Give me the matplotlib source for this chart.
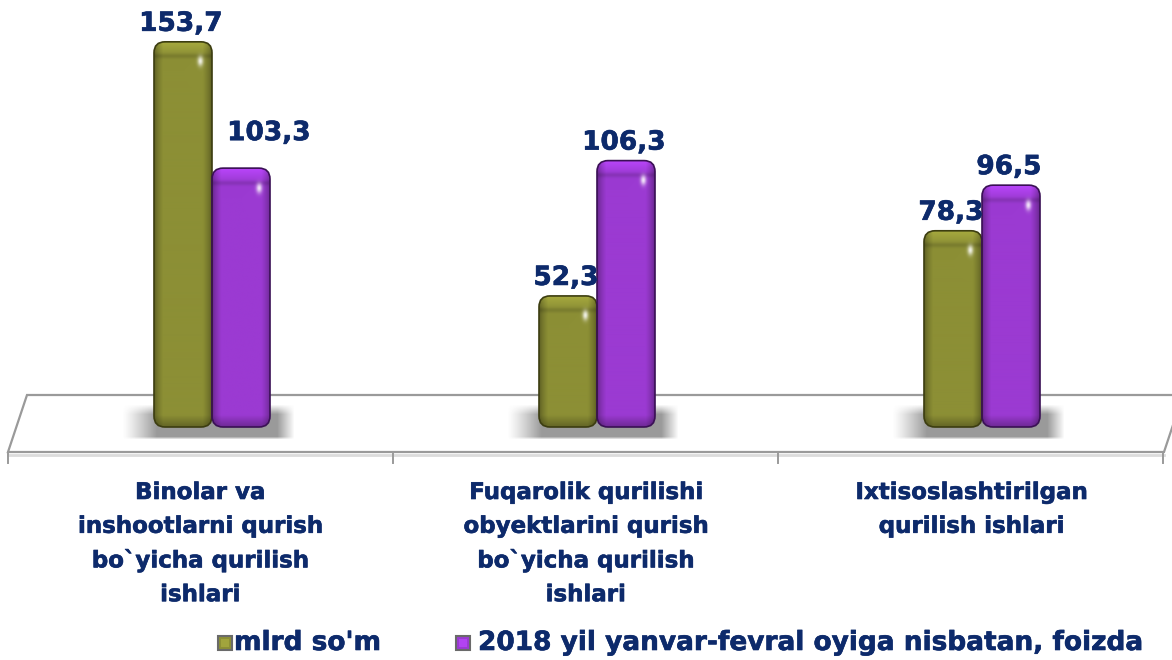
import numpy as np
import matplotlib
matplotlib.use("Agg")
import matplotlib.pyplot as plt
from matplotlib.patches import FancyBboxPatch, Polygon, Rectangle
import matplotlib.transforms as mtransforms
import matplotlib.patheffects as pe

# ---------------- data ----------------
categories = [
    "Binolar va\ninshootlarni qurish\nbo`yicha qurilish\nishlari",
    "Fuqarolik qurilishi\nobyektlarini qurish\nbo`yicha qurilish\nishlari",
    "Ixtisoslashtirilgan\nqurilish ishlari",
]
series_names = ["mlrd so'm", "2018 yil yanvar-fevral oyiga nisbatan, foizda"]
mlrd_som = [153.7, 52.3, 78.3]
foizda = [103.3, 106.3, 96.5]
value_labels = [["153,7", "52,3", "78,3"], ["103,3", "106,3", "96,5"]]

# ---------------- style ----------------
W, H = 1172, 660
TXT = "#0d2a6b"
FONT = "DejaVu Sans"
base_cols = [np.array([0x8c, 0x8f, 0x35]) / 255.0, np.array([0x9b, 0x3a, 0xd2]) / 255.0]
edge_cols = ["#3c3d10", "#3a1055"]
heavy = [pe.withStroke(linewidth=0.45, foreground=TXT)]

fig = plt.figure(figsize=(W / 100, H / 100), dpi=100)
fig.patch.set_facecolor("white")
ax = fig.add_axes([0, 0, 1, 1])
ax.axis("off")

# data scale: 1 x-unit = 385 px, group 0 at px 212; baseline at py 427, 2.506 px / unit
PX_X = 385.0
PX_Y = 2.506
x0c, base_py = 212.0, 427.0
ax.set_xlim(-x0c / PX_X, (W - x0c) / PX_X)
ax.set_ylim(-(H - base_py) / PX_Y, base_py / PX_Y)

# pixel transform (origin top-left)
pix = mtransforms.Affine2D().scale(1.0 / W, -1.0 / H).translate(0, 1) + fig.transFigure

# ---------------- floor ----------------
floor = Polygon([(27, 395), (1183, 395), (1164, 452), (8, 452)], closed=True,
                fc="white", ec="#9a9a9a", lw=1.6, transform=pix, zorder=-3)
fig.add_artist(floor)
fig.add_artist(plt.Line2D([8, 1164], [455, 455], color="#dcdcdc", lw=2.0, transform=pix, zorder=-3))
for tx in [8, 393, 778, 1163]:
    fig.add_artist(plt.Line2D([tx, tx], [452, 463], color="#9a9a9a", lw=1.4, transform=pix, zorder=-3))

# ---------------- shadows ----------------
xpos = np.arange(len(categories))
for xc in xpos:
    nx, ny = 170, 36
    u = np.linspace(0, 1, nx)
    v = np.linspace(0, 1, ny)
    ax_prof = np.clip(u / 0.20, 0, 1) ** 1.2 * np.clip((1 - u) / 0.10, 0, 1)
    ay_prof = np.clip(v / 0.28, 0, 1) * np.clip((1 - v) / 0.08, 0, 1)
    alpha = 0.72 * np.outer(ay_prof, ax_prof)
    img = np.zeros((ny, nx, 4))
    img[..., :3] = 0.45
    img[..., 3] = alpha
    ax.imshow(img, extent=(xc - 90 / PX_X, xc + 82 / PX_X, -13 / PX_Y, 23 / PX_Y),
              aspect="auto", origin="upper", zorder=2, interpolation="bilinear")

# ---------------- bars ----------------
bw = 58 / PX_X
rad = 11 / PX_X
asp = PX_X / PX_Y


def shaded_image(col, wpx, hpx):
    wpx, hpx = max(int(wpx), 4), max(int(hpx), 4)
    u = (np.arange(wpx) + 0.5) / wpx
    t = np.arange(hpx) + 0.5  # pixels from top
    side = np.minimum(u, 1 - u)
    hprof = 0.60 + 0.40 * np.clip(side / 0.16, 0, 1) ** 0.6
    f = np.tile(hprof, (hpx, 1))
    top = np.clip(1 - t / 14.0, 0, 1)
    f = f * (1 + 0.20 * top[:, None])
    dark_line = np.exp(-((t - 15.0) / 2.5) ** 2)
    f = f * (1 - 0.12 * dark_line[:, None])
    bt = hpx - t
    f = f * (1 - 0.30 * np.clip(1 - bt / 12.0, 0, 1)[:, None])
    rgb = np.clip(col[None, None, :] * f[..., None], 0, 1)
    uu, tt = np.meshgrid(u, t)
    spec = np.exp(-(((uu - 0.80) / 0.05) ** 2 + ((tt - 20) / 5.0) ** 2))
    rgb = rgb + (1 - rgb) * 0.85 * spec[..., None]
    img = np.ones((hpx, wpx, 4))
    img[..., :3] = rgb
    return img


for s, vals in enumerate([mlrd_som, foizda]):
    for i, val in enumerate(vals):
        xl = xpos[i] - bw + s * bw
        patch = FancyBboxPatch((xl, 0), bw, val,
                               boxstyle=f"round,pad=0,rounding_size={rad}",
                               mutation_aspect=asp, fc="none", ec=edge_cols[s],
                               lw=1.2, zorder=4)
        ax.add_patch(patch)
        img = shaded_image(base_cols[s], 58, val * PX_Y)
        im = ax.imshow(img, extent=(xl, xl + bw, 0, val), aspect="auto",
                       origin="upper", zorder=3, interpolation="bilinear")
        im.set_clip_path(patch)

# ---------------- value labels ----------------
label_offsets = {(1, 0): (28, 35)}
for s, vals in enumerate([mlrd_som, foizda]):
    for i, val in enumerate(vals):
        xc = xpos[i] - bw / 2 + s * bw
        dx, dy = label_offsets.get((s, i), (-2, 18))
        ax.annotate(value_labels[s][i], xy=(xc, val),
                    xytext=(dx * 0.72, dy * 0.72), textcoords="offset points",
                    ha="center", va="center", fontsize=19, fontweight="bold",
                    color=TXT, family=FONT, zorder=6, path_effects=heavy)

# ---------------- category labels ----------------
for i, cat in enumerate(categories):
    cx = 200 + 385.5 * i
    fig.text(cx, 481, cat, transform=pix, ha="center", va="top",
             fontsize=16.5, fontweight="bold", color=TXT, family=FONT,
             linespacing=1.6, multialignment="center", path_effects=heavy)

# ---------------- legend ----------------
leg_items = [(218, 234), (456, 478)]
for s, (mx, tx) in enumerate(leg_items):
    sq = Rectangle((mx, 636), 14, 14, transform=pix, fc=base_cols[s],
                   ec="#6a6a6a", lw=1.5, zorder=5)
    fig.add_artist(sq)
    inner = Rectangle((mx + 3, 639), 8, 8, transform=pix,
                      fc=np.clip(base_cols[s] * 1.15, 0, 1), ec="none", zorder=6)
    fig.add_artist(inner)
    fig.text(tx, 643, series_names[s], transform=pix, ha="left", va="center",
             fontsize=19, fontweight="bold", color=TXT, family=FONT,
             path_effects=heavy)

fig.savefig("out.png", dpi=100, facecolor="white")
